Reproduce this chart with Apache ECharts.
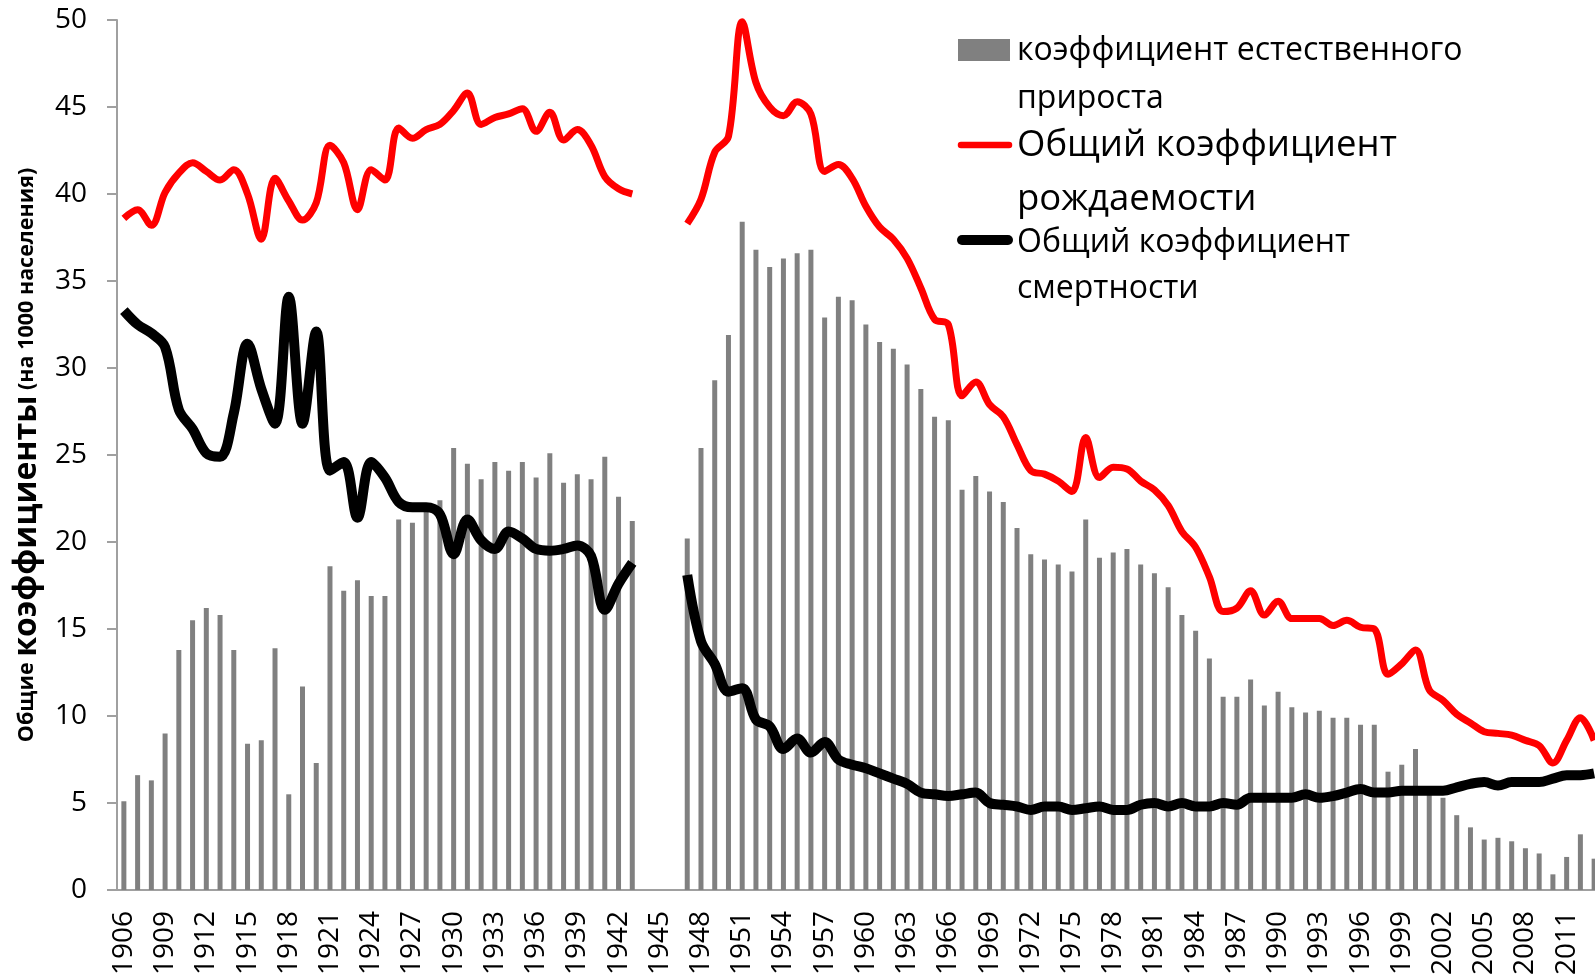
<!DOCTYPE html>
<html>
<head>
<meta charset="utf-8">
<script src="https://cdn.jsdelivr.net/npm/echarts@6/dist/echarts.min.js"></script>
<style>
  html, body { margin: 0; padding: 0; background: #fff; }
  #chart { width: 1595px; height: 977px; }
</style>
</head>
<body>
<div id="chart"></div>
<script>
// годы 1906..2013 (1944-1946 без данных)
const years = []
for (let y = 1906; y <= 2013; y++) years.push(String(y))

// коэффициент естественного прироста
const natural = [
  5.1, 6.6, 6.3, 9.0, 13.8, 15.5, 16.2, 15.8, 13.8, 8.4,
  8.6, 13.9, 5.5, 11.7, 7.3, 18.6, 17.2, 17.8, 16.9, 16.9,
  21.3, 21.1, 21.8, 22.4, 25.4, 24.5, 23.6, 24.6, 24.1, 24.6,
  23.7, 25.1, 23.4, 23.9, 23.6, 24.9, 22.6, 21.2,
  null, null, null,
  20.2, 25.4, 29.3, 31.9, 38.4, 36.8, 35.8, 36.3, 36.6, 36.8,
  32.9, 34.1, 33.9, 32.5, 31.5, 31.1, 30.2, 28.8, 27.2, 27.0,
  23.0, 23.8, 22.9, 22.3, 20.8, 19.3, 19.0, 18.7, 18.3, 21.3,
  19.1, 19.4, 19.6, 18.7, 18.2, 17.4, 15.8, 14.9, 13.3, 11.1,
  11.1, 12.1, 10.6, 11.4, 10.5, 10.2, 10.3, 9.9, 9.9, 9.5,
  9.5, 6.8, 7.2, 8.1, 5.6, 5.3, 4.3, 3.6, 2.9, 3.0,
  2.8, 2.4, 2.1, 0.9, 1.9, 3.2, 1.8
]

// общий коэффициент рождаемости
const birth = [
  38.6, 39.1, 38.2, 40.1, 41.2, 41.8, 41.3, 40.8, 41.4, 40.0,
  37.4, 40.9, 39.6, 38.5, 39.5, 42.8, 41.8, 39.1, 41.4, 40.8,
  43.8, 43.2, 43.7, 44.0, 44.8, 45.8, 44.0, 44.4, 44.6, 44.9,
  43.6, 44.7, 43.1, 43.7, 42.8, 41.0, 40.3, 40.0,
  null, null, null,
  38.3, 39.7, 42.4, 43.3, 49.9, 46.4, 45.0, 44.5, 45.3, 44.6,
  41.3, 41.7, 40.9, 39.3, 38.1, 37.4, 36.3, 34.6, 32.8, 32.5,
  28.4, 29.2, 27.9, 27.2, 25.6, 24.1, 23.9, 23.5, 22.9, 26.0,
  23.7, 24.3, 24.2, 23.5, 23.0, 22.1, 20.6, 19.7, 18.0, 16.0,
  16.2, 17.2, 15.8, 16.6, 15.6, 15.6, 15.6, 15.2, 15.5, 15.1,
  15.0, 12.4, 13.0, 13.8, 11.5, 10.9, 10.1, 9.6, 9.1, 9.0,
  8.9, 8.6, 8.3, 7.3, 8.6, 9.9, 8.6
]

// общий коэффициент смертности
const death = [
  33.3, 32.5, 32.0, 31.2, 27.6, 26.5, 25.1, 24.9, 27.4, 31.4,
  28.8, 26.8, 34.1, 26.8, 32.1, 24.1, 24.6, 21.4, 24.6, 23.7,
  22.3, 22.0, 22.0, 21.6, 19.3, 21.3, 20.1, 19.6, 20.6, 20.2,
  19.6, 19.5, 19.6, 19.8, 19.2, 16.1, 17.6, 18.8,
  null, null, null,
  18.1, 14.3, 13.0, 11.4, 11.6, 9.8, 9.4, 8.1, 8.7, 7.9,
  8.5, 7.5, 7.2, 7.0, 6.7, 6.4, 6.1, 5.6, 5.5, 5.4,
  5.5, 5.6, 5.0, 4.9, 4.8, 4.6, 4.8, 4.8, 4.6, 4.7,
  4.8, 4.6, 4.6, 4.9, 5.0, 4.8, 5.0, 4.8, 4.8, 5.0,
  4.9, 5.3, 5.3, 5.3, 5.3, 5.5, 5.3, 5.4, 5.6, 5.8,
  5.6, 5.6, 5.7, 5.7, 5.7, 5.7, 5.9, 6.1, 6.2, 6.0,
  6.2, 6.2, 6.2, 6.4, 6.6, 6.6, 6.7
]

const seriesNames = [
  'коэффициент естественного\nприроста',
  'Общий коэффициент\nрождаемости',
  'Общий коэффициент\nсмертности'
]

const font = '"Open Sans", "Noto Sans", sans-serif'
const axisGray = '#a0a0a0'

let chart = echarts.init(document.getElementById('chart'))

let option = {
  animation: false,
  backgroundColor: '#fff',
  textStyle: { fontFamily: font, color: '#000' },
  grid: { left: 117, top: 20, width: 1484, height: 870, outerBoundsMode: 'none' },
  xAxis: {
    type: 'category',
    data: years,
    boundaryGap: true,
    axisLine: { lineStyle: { color: axisGray, width: 2 } },
    axisTick: { interval: 0, length: 10, lineStyle: { color: axisGray, width: 2 } },
    axisLabel: {
      interval: 2,
      rotate: 90,
      margin: 21,
      fontSize: 28,
      fontFamily: font,
      color: '#000'
    }
  },
  yAxis: {
    type: 'value',
    min: 0,
    max: 50,
    interval: 5,
    splitLine: { show: false },
    axisLine: { show: true, lineStyle: { color: axisGray, width: 2 } },
    axisTick: { show: true, length: 10, lineStyle: { color: axisGray, width: 2 } },
    axisLabel: { margin: 30, fontSize: 28, fontFamily: font, color: '#000' },
    name: '{s|Общие }{b|коэффициенты}{s| (на 1000 населения)}',
    nameLocation: 'middle',
    nameRotate: 90,
    nameGap: 74,
    nameTextStyle: {
      color: '#000',
      fontFamily: font,
      fontWeight: 'bold',
      rich: {
        s: { fontSize: 21.5, fontWeight: 'bold', fontFamily: font, color: '#000' },
        b: { fontSize: 32, fontWeight: 'bold', fontFamily: font, color: '#000' }
      }
    }
  },
  // легенда нарисована вручную: значок стоит у первой строки подписи
  graphic: [
    { type: 'rect', left: 958, top: 39, shape: { width: 52, height: 22 }, style: { fill: '#808080' } },
    { type: 'text', left: 1017, top: 27, style: { text: seriesNames[0], font: '32px ' + font, lineHeight: 48, fill: '#000' } },
    { type: 'line', shape: { x1: 961, y1: 145, x2: 1009, y2: 145 }, style: { stroke: '#ff0000', lineWidth: 6.5, lineCap: 'round' } },
    { type: 'text', left: 1017, top: 119, style: { text: seriesNames[1], font: '36.5px ' + font, lineHeight: 54, fill: '#000' } },
    { type: 'line', shape: { x1: 962, y1: 240, x2: 1008, y2: 240 }, style: { stroke: '#000', lineWidth: 10, lineCap: 'round' } },
    { type: 'text', left: 1017, top: 220, style: { text: seriesNames[2], font: '32px ' + font, lineHeight: 46, fill: '#000' } }
  ],
  series: [
    {
      name: seriesNames[0],
      type: 'bar',
      data: natural,
      barWidth: 5,
      itemStyle: { color: '#808080' }
    },
    {
      name: seriesNames[1],
      type: 'line',
      data: birth,
      smooth: 0.35,
      showSymbol: false,
      lineStyle: { color: '#ff0000', width: 7 },
      itemStyle: { color: '#ff0000' }
    },
    {
      name: seriesNames[2],
      type: 'line',
      data: death,
      smooth: 0.35,
      showSymbol: false,
      lineStyle: { color: '#000', width: 10 },
      itemStyle: { color: '#000' }
    }
  ]
}

chart.setOption(option)
</script>
</body>
</html>
